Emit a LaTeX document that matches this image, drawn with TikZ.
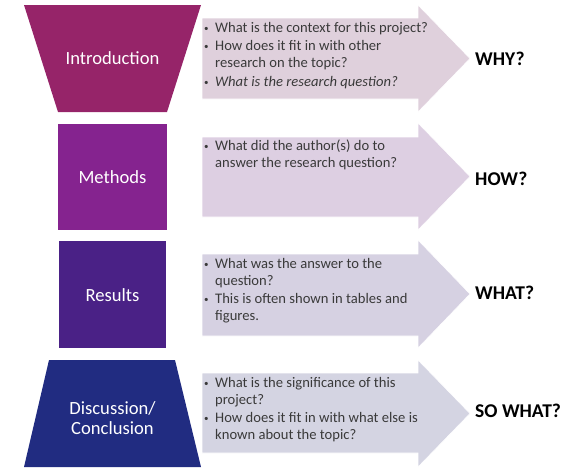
\documentclass[tikz,border=0pt]{standalone}
\usepackage{fontspec}
\setmainfont{Carlito}
\definecolor{cIntro}{HTML}{962469}
\definecolor{cMeth}{HTML}{85238F}
\definecolor{cRes}{HTML}{4A2186}
\definecolor{cDisc}{HTML}{212C81}
\definecolor{aIntro}{HTML}{DFD0DC}
\definecolor{aMeth}{HTML}{DDCFE2}
\definecolor{aRes}{HTML}{D6D1E2}
\definecolor{aDisc}{HTML}{D4D4E2}
\definecolor{btext}{HTML}{3A3A3A}
\newcommand{\bul}{{\fontsize{9}{9}\selectfont\raisebox{1pt}{•}}}
\begin{document}
\begin{tikzpicture}[x=1pt,y=-1pt,
  label/.style={text=white,font=\fontsize{18.6}{20}\selectfont,align=center,inner sep=0pt},
  qbox/.style={anchor=north west,inner sep=0pt,text=btext,font=\fontsize{14.6}{17}\selectfont},
  ask/.style={anchor=west,inner sep=0pt,font=\fontsize{19.5}{22}\selectfont\bfseries},
  arrowfill/.style={draw=white,line width=0.6pt}]
\useasboundingbox (0,0) rectangle (585,471);
% left shapes
\fill[cIntro] (24,5) -- (201,5) -- (167,112) -- (58,112) -- cycle;
\fill[cMeth] (58,124) rectangle (167,230);
\fill[cRes] (59,241) rectangle (166,348);
\fill[cDisc] (49,360) -- (175,360) -- (201,467) -- (24,467) -- cycle;
\node[label] (intro) at (112.5,58) {Introduction};
\node[label] (meth) at (112.5,177) {Methods};
\node[label] (res) at (112.5,295) {Results};
\node[label] (disc) at (112.5,418) {Discussion/\\Conclusion};
% arrows
\fill[aIntro,arrowfill] (202,18) -- (418,18) -- (418,5) -- (470,58.5) -- (418,112) -- (418,99) -- (202,99) -- cycle;
\fill[aMeth,arrowfill] (202,137) -- (418,137) -- (418,123) -- (470,176.5) -- (418,230) -- (418,217) -- (202,217) -- cycle;
\fill[aRes,arrowfill] (202,254) -- (418,254) -- (418,240) -- (470,294) -- (418,348) -- (418,336) -- (202,336) -- cycle;
\fill[aDisc,arrowfill] (202,373) -- (418,373) -- (418,360) -- (470,413.5) -- (418,467) -- (418,453) -- (202,453) -- cycle;
% texts
\node[qbox] (q1) at (204,20) {\begin{tabular}{@{}p{11pt}@{}l@{}}
\bul & What is the context for this project?\\[1.5pt]
\bul & How does it fit in with other\\
 & research on the topic?\\[1.5pt]
\bul & \itshape What is the research question?
\end{tabular}};
\node[qbox] (q2) at (204,138) {\begin{tabular}{@{}p{11pt}@{}l@{}}
\bul & What did the author(s) do to\\
 & answer the research question?
\end{tabular}};
\node[qbox] (q3) at (204,256) {\begin{tabular}{@{}p{11pt}@{}l@{}}
\bul & What was the answer to the\\
 & question?\\[1.5pt]
\bul & This is often shown in tables and\\
 & figures.
\end{tabular}};
\node[qbox] (q4) at (204,375) {\begin{tabular}{@{}p{11pt}@{}l@{}}
\bul & What is the significance of this\\
 & project?\\[1.5pt]
\bul & How does it fit in with what else is\\
 & known about the topic?
\end{tabular}};
\node[ask] (why) at (475,58.5) {WHY?};
\node[ask] (how) at (475,179) {HOW?};
\node[ask] (what) at (475,293) {WHAT?};
\node[ask] (sowhat) at (475,411) {SO WHAT?};
\end{tikzpicture}
\end{document}
